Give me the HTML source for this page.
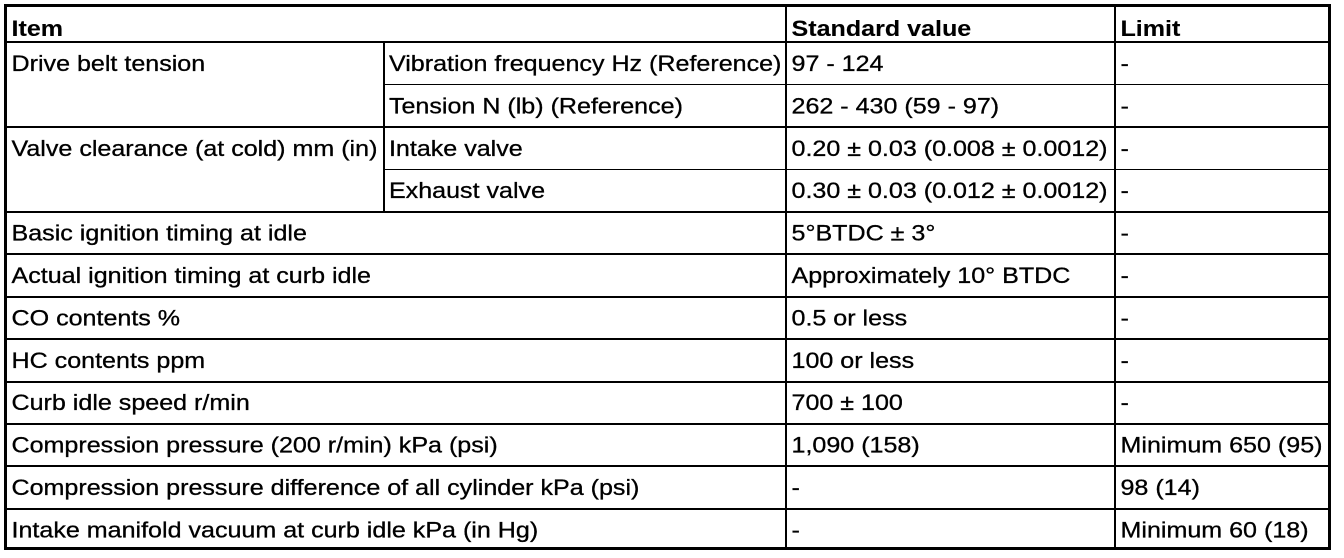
<!DOCTYPE html>
<html>
<head>
<meta charset="utf-8">
<style>
  html, body { margin: 0; padding: 0; background: #ffffff; }
  body { width: 1344px; height: 558px; overflow: hidden; }
  svg { display: block; }
  text { font-family: "Liberation Sans", Arial, Helvetica, sans-serif; font-size: 22px; fill: #000; stroke: #000; stroke-width: 0.3; }
  .b { font-weight: bold; stroke-width: 0.1; }
</style>
</head>
<body>
<svg width="1344" height="558" viewBox="0 0 1344 558" xmlns="http://www.w3.org/2000/svg">
  <rect x="0" y="0" width="1344" height="558" fill="#fff"/>
  <g fill="#000" shape-rendering="crispEdges">
    <!-- outer border -->
    <rect x="4" y="4" width="1327" height="3"/>
    <rect x="4" y="4" width="3" height="546"/>
    <rect x="1328" y="4" width="3" height="546"/>
    <rect x="4" y="547" width="1327" height="3"/>
    <!-- header line -->
    <rect x="4" y="41" width="1327" height="2"/>
    <!-- column lines -->
    <rect x="785" y="4" width="2" height="546"/>
    <rect x="1114" y="4" width="2" height="546"/>
    <rect x="383" y="42" width="2" height="170"/>
    <!-- sub row lines -->
    <rect x="383" y="84" width="948" height="1"/>
    <rect x="383" y="169" width="948" height="1"/>
    <!-- main row lines -->
    <rect x="4" y="126" width="1327" height="2"/>
    <rect x="4" y="211" width="1327" height="2"/>
    <rect x="4" y="253" width="1327" height="2"/>
    <rect x="4" y="296" width="1327" height="2"/>
    <rect x="4" y="338" width="1327" height="2"/>
    <rect x="4" y="381" width="1327" height="2"/>
    <rect x="4" y="423" width="1327" height="2"/>
    <rect x="4" y="465" width="1327" height="2"/>
    <rect x="4" y="508" width="1327" height="2"/>
  </g>
  <g transform="scale(1.14,1)">
    <!-- header -->
    <text class="b" x="10.1" y="36">Item</text>
    <text class="b" x="694.3" y="36">Standard value</text>
    <text class="b" x="982.9" y="36">Limit</text>

    <!-- row 0 -->
    <text x="10.1" y="71">Drive belt tension</text>
    <text x="341.2" y="71">Vibration frequency Hz (Reference)</text>
    <text x="694.3" y="71">97 - 124</text>
    <text x="982.9" y="71">-</text>
    <!-- row 1 -->
    <text x="341.2" y="113.4">Tension N (lb) (Reference)</text>
    <text x="694.3" y="113.4">262 - 430 (59 - 97)</text>
    <text x="982.9" y="113.4">-</text>
    <!-- row 2 -->
    <text x="10.1" y="155.8">Valve clearance (at cold) mm (in)</text>
    <text x="341.2" y="155.8">Intake valve</text>
    <text x="694.3" y="155.8">0.20 ± 0.03 (0.008 ± 0.0012)</text>
    <text x="982.9" y="155.8">-</text>
    <!-- row 3 -->
    <text x="341.2" y="198.2">Exhaust valve</text>
    <text x="694.3" y="198.2">0.30 ± 0.03 (0.012 ± 0.0012)</text>
    <text x="982.9" y="198.2">-</text>
    <!-- row 4 -->
    <text x="10.1" y="240.6">Basic ignition timing at idle</text>
    <text x="694.3" y="240.6">5°BTDC ± 3°</text>
    <text x="982.9" y="240.6">-</text>
    <!-- row 5 -->
    <text x="10.1" y="283">Actual ignition timing at curb idle</text>
    <text x="694.3" y="283">Approximately 10° BTDC</text>
    <text x="982.9" y="283">-</text>
    <!-- row 6 -->
    <text x="10.1" y="325.4">CO contents %</text>
    <text x="694.3" y="325.4">0.5 or less</text>
    <text x="982.9" y="325.4">-</text>
    <!-- row 7 -->
    <text x="10.1" y="367.8">HC contents ppm</text>
    <text x="694.3" y="367.8">100 or less</text>
    <text x="982.9" y="367.8">-</text>
    <!-- row 8 -->
    <text x="10.1" y="410.2">Curb idle speed r/min</text>
    <text x="694.3" y="410.2">700 ± 100</text>
    <text x="982.9" y="410.2">-</text>
    <!-- row 9 -->
    <text x="10.1" y="452.6">Compression pressure (200 r/min) kPa (psi)</text>
    <text x="694.3" y="452.6">1,090 (158)</text>
    <text x="982.9" y="452.6">Minimum 650 (95)</text>
    <!-- row 10 -->
    <text x="10.1" y="495">Compression pressure difference of all cylinder kPa (psi)</text>
    <text x="694.3" y="495">-</text>
    <text x="982.9" y="495">98 (14)</text>
    <!-- row 11 -->
    <text x="10.1" y="537.4">Intake manifold vacuum at curb idle kPa (in Hg)</text>
    <text x="694.3" y="537.4">-</text>
    <text x="982.9" y="537.4">Minimum 60 (18)</text>
  </g>
</svg>
</body>
</html>
